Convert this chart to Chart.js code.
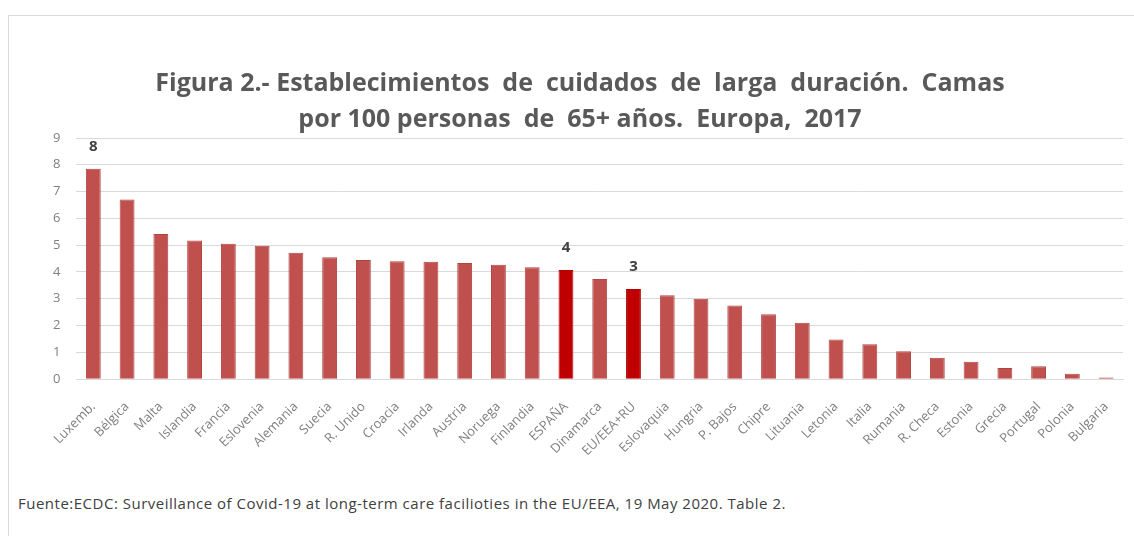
<!DOCTYPE html>
<html lang="es">
<head>
<meta charset="utf-8">
<title>Camas por 100 personas de 65+ años. Europa, 2017</title>
<script src="https://cdn.jsdelivr.net/npm/chart.js@4.4.1/dist/chart.umd.min.js"></script>
<style>
    html, body { margin: 0; padding: 0; background: #fff; overflow: hidden; }
    body { width: 1134px; height: 536px; position: relative; }
    .frame { position: absolute; left: 8px; top: 15px; width: 1140px; height: 600px; border: 1px solid #d9d9d9; box-sizing: border-box; }
    .chart-box { position: absolute; left: 0; top: 0; width: 1134px; height: 480px; }
    .source { position: absolute; left: 18px; top: 493px; font-family: "Open Sans", sans-serif; font-size: 15px; letter-spacing: 0.5px; color: #404040; white-space: nowrap; }
</style>
</head>
<body>
<div class="frame"></div>
<div class="chart-box"><canvas id="chart"></canvas></div>
<div class="source" id="source">Fuente:ECDC: Surveillance of Covid-19 at long-term care facilioties in the EU/EEA, 19 May 2020. Table 2.</div>
<script>
// --- Data ---
const categories = ['Luxemb.', 'Bélgica', 'Malta', 'Islandia', 'Francia', 'Eslovenia', 'Alemania', 'Suecia',
    'R. Unido', 'Croacia', 'Irlanda', 'Austria', 'Noruega', 'Finlandia', 'ESPAÑA', 'Dinamarca', 'EU/EEA+RU',
    'Eslovaquia', 'Hungria', 'P. Bajos', 'Chipre', 'Lituania', 'Letonia', 'Italia', 'Rumania', 'R. Checa',
    'Estonia', 'Grecia', 'Portugal', 'Polonia', 'Bulgaria'];
const beds = [7.85, 6.7, 5.42, 5.17, 5.05, 4.98, 4.72, 4.55, 4.45, 4.4, 4.38, 4.33, 4.27, 4.18, 4.07, 3.74,
    3.36, 3.13, 3.0, 2.75, 2.42, 2.1, 1.48, 1.3, 1.04, 0.8, 0.65, 0.42, 0.48, 0.2, 0.06];
const highlighted = ['ESPAÑA', 'EU/EEA+RU'];
const noteCategories = ['Luxemb.', 'ESPAÑA', 'EU/EEA+RU'];
const noteTexts = ['8', '4', '3'];
const yTicks = [0, 1, 2, 3, 4, 5, 6, 7, 8, 9];

const titleLines = [
    'Figura 2.- Establecimientos  de  cuidados  de  larga  duración.  Camas',
    'por 100 personas  de  65+ años.  Europa,  2017'
];

const BAR_COLOR = '#c0504d';
const HIGHLIGHT_COLOR = '#c00000';
const GRID_COLOR = '#d9d9d9';

// bold numbers drawn over a few bars
const barNotes = {
    id: 'barNotes',
    afterDatasetsDraw(chart) {
        const { ctx } = chart;
        const meta = chart.getDatasetMeta(0);
        ctx.save();
        ctx.font = 'bold 15px "Open Sans", sans-serif';
        ctx.fillStyle = '#404040';
        ctx.textAlign = 'center';
        ctx.textBaseline = 'middle';
        noteCategories.forEach((cat, i) => {
            const idx = categories.indexOf(cat);
            const bar = meta.data[idx];
            ctx.fillText(noteTexts[i], bar.x, bar.y - 22);
        });
        ctx.restore();
    }
};

new Chart(document.getElementById('chart'), {
    type: 'bar',
    data: {
        labels: categories,
        datasets: [{
            data: beds,
            backgroundColor: categories.map(c => highlighted.includes(c) ? HIGHLIGHT_COLOR : BAR_COLOR),
            borderColor: categories.map(c => highlighted.includes(c) ? '#b00000' : '#b04642'),
            borderWidth: 1,
            categoryPercentage: 1,
            barPercentage: 0.44
        }]
    },
    options: {
        responsive: true,
        maintainAspectRatio: false,
        animation: false,
        layout: { padding: { left: 37, right: 11, top: 58, bottom: 9 } },
        plugins: {
            legend: { display: false },
            tooltip: { enabled: false },
            title: {
                display: true,
                text: titleLines,
                color: '#595959',
                font: { family: '"Open Sans", sans-serif', size: 25, weight: 'bold', lineHeight: 1.44 },
                padding: { top: 8, bottom: 0 }
            }
        },
        scales: {
            x: {
                grid: { display: false },
                border: { color: GRID_COLOR },
                ticks: {
                    autoSkip: false,
                    maxRotation: 45,
                    minRotation: 45,
                    padding: 12,
                    color: '#7f7f7f',
                    font: { family: '"Open Sans", sans-serif', size: 13 }
                }
            },
            y: {
                min: 0,
                max: 9,
                afterBuildTicks: axis => { axis.ticks = yTicks.map(v => ({ value: v })); },
                grid: { color: GRID_COLOR, drawTicks: false },
                border: { display: false },
                ticks: {
                    padding: 16,
                    color: '#7f7f7f',
                    font: { family: '"Open Sans", sans-serif', size: 13 }
                }
            }
        }
    },
    plugins: [barNotes]
});
</script>
</body>
</html>
